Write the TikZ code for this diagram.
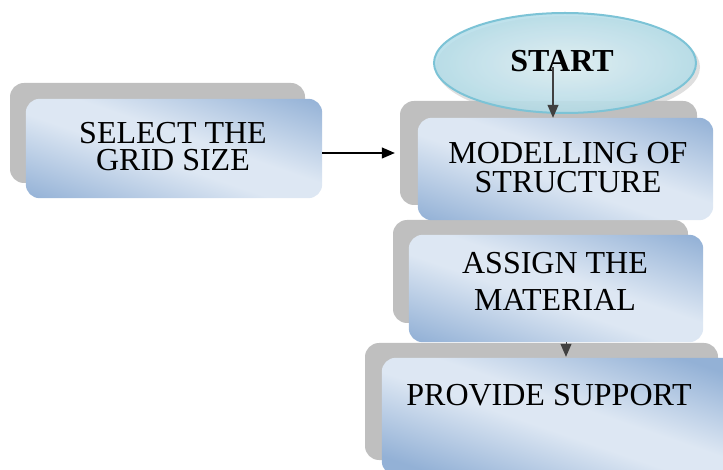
\documentclass[tikz,border=0pt]{standalone}
\usepackage{fontspec}
\setmainfont{Liberation Serif}
\usetikzlibrary{arrows.meta,shapes.geometric}
\definecolor{shadowgray}{RGB}{191,191,191}
\definecolor{boxdark}{RGB}{147,177,214}
\definecolor{boxlight}{RGB}{221,231,243}
\definecolor{ellin}{RGB}{224,241,246}
\definecolor{ellout}{RGB}{178,220,232}
\definecolor{elledge}{RGB}{124,195,214}
\definecolor{arrgray}{RGB}{64,64,64}
\pgfdeclareverticalshading{boxshade}{100bp}{color(0bp)=(boxdark); color(37.5bp)=(boxdark); color(48bp)=(boxlight); color(52bp)=(boxlight); color(62.5bp)=(boxdark); color(100bp)=(boxdark)}
\newcommand{\gradfill}[1]{%
  \begin{scope}
    \clip[rounded corners=14pt] (#1.south west) rectangle (#1.north east);
    \shade[shading=boxshade, transform canvas={rotate around={-19:(#1.center)}}]
      ([xshift=-190pt,yshift=-190pt]#1.center) rectangle ([xshift=190pt,yshift=190pt]#1.center);
  \end{scope}}
\tikzset{
  shadowbox/.style={fill=shadowgray, draw=none, rounded corners=14pt, inner sep=0pt},
  frontbox/.style={draw=none, rounded corners=14pt, inner sep=0pt},
  txt/.style={inner sep=0pt, align=center, font=\fontsize{32}{27}\selectfont},
  arr/.style={line width=1.2pt, -{Triangle[length=13pt,width=11pt]}},
}
\begin{document}
\begin{tikzpicture}[x=1pt,y=-1pt]
\useasboundingbox (0,0) rectangle (723,470);
\clip (0,0) rectangle (723,470);
% PROVIDE
\node[shadowbox, minimum width=353pt, minimum height=117pt] (provS) at (541.5,401.5) {};
\node[frontbox, minimum width=354pt, minimum height=117pt] (prov) at (559,416.5) {};
\gradfill{prov}
% ASSIGN
\node[shadowbox, minimum width=295pt, minimum height=103pt] (asgS) at (540.5,271.5) {};
\node[frontbox, minimum width=294pt, minimum height=107pt] (asg) at (556,288.5) {};
\gradfill{asg}
% MODELLING
\node[shadowbox, minimum width=297pt, minimum height=104pt] (modS) at (548.5,153) {};
\node[frontbox, minimum width=295pt, minimum height=102pt] (mod) at (565.5,169) {};
\gradfill{mod}
% SELECT
\node[shadowbox, minimum width=295pt, minimum height=100pt] (selS) at (157.5,133) {};
\node[frontbox, minimum width=296pt, minimum height=99pt] (sel) at (174,148.5) {};
\gradfill{sel}
% START ellipse
\node[ellipse, fill=shadowgray, fill opacity=0.5, minimum width=264pt, minimum height=102pt, inner sep=0pt] (startS) at (568,67) {};
\node[ellipse, draw=elledge, line width=2pt, inner color=ellin, outer color=ellout, fill opacity=0.85,
      minimum width=262pt, minimum height=100pt, inner sep=0pt] (start) at (565,63) {};
% texts
\node[txt] (tsel) at (173,147) {SELECT THE\\GRID SIZE};
\node[txt, font=\fontsize{32}{29}\selectfont] (tmod) at (568,167.5) {MODELLING OF\\STRUCTURE};
\node[txt, font=\fontsize{32}{37}\selectfont] (tasg) at (555,281) {ASSIGN THE\\MATERIAL};
\node[txt] (tprov) at (549,395) {PROVIDE SUPPORT};
\node[txt, font=\fontsize{32}{32}\bfseries] (tstart) at (562,61.5) {START};
% connectors
\coordinate (s1) at (553,67);
\draw[arr, draw=arrgray, fill=arrgray] (s1) -- (s1 |- mod.north);
\draw[arr, draw=black] (sel.east |- 0,153) -- ([xshift=-5pt]modS.west |- 0,153);
\draw[arr, draw=arrgray, line width=1pt] (asg.south -| 566,0) -- ([yshift=1pt]prov.north -| 566,0);
\end{tikzpicture}
\end{document}
